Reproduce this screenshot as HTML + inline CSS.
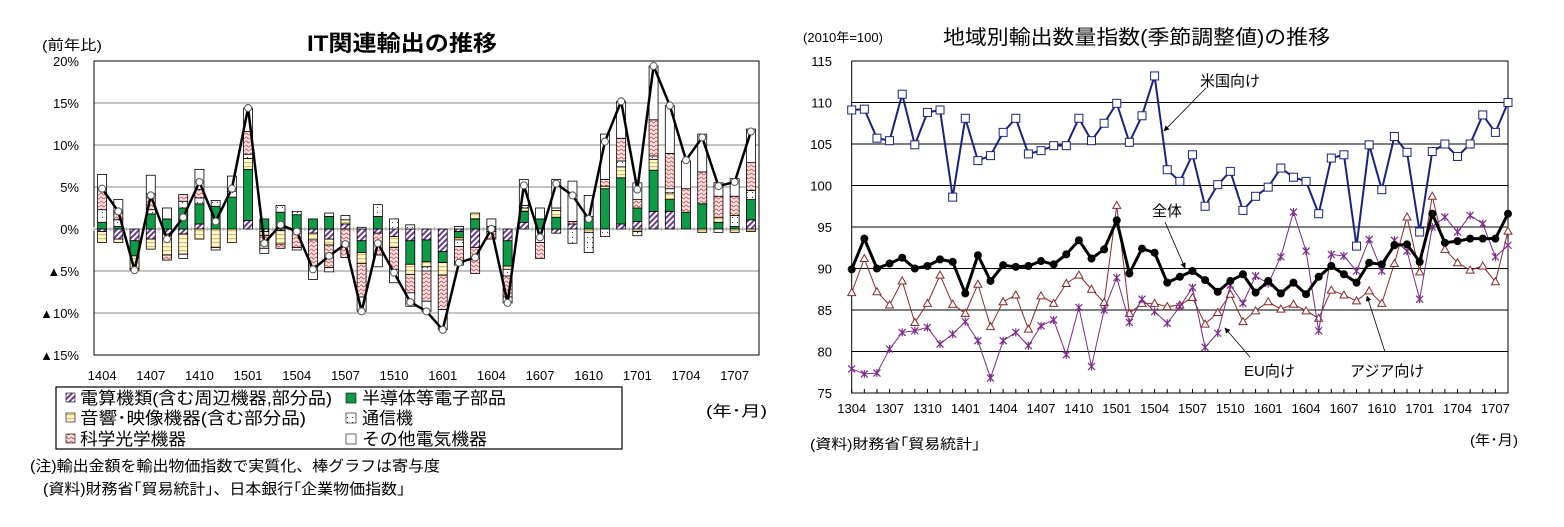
<!DOCTYPE html>
<html><head><meta charset="utf-8"><style>
body{margin:0;background:#fff;width:1564px;height:522px;overflow:hidden;font-family:"Liberation Sans","Noto Sans CJK JP",sans-serif;}
svg text{font-family:"Liberation Sans","Noto Sans CJK JP",sans-serif;}
</style></head><body>
<svg id="s" width="1564" height="522" xmlns="http://www.w3.org/2000/svg">
<defs>
<pattern id="pHatch" width="4" height="4" patternUnits="userSpaceOnUse" patternTransform="rotate(45)"><rect width="4" height="4" fill="#fff"/><rect width="2" height="4" fill="#6a3d9a"/></pattern>
<pattern id="pYel" width="4" height="4" patternUnits="userSpaceOnUse"><rect width="4" height="4" fill="#fff8d0"/><rect y="2" width="4" height="1.2" fill="#d8c060"/></pattern>
<pattern id="pDot" width="5" height="5" patternUnits="userSpaceOnUse"><rect width="5" height="5" fill="#fff"/><rect x="2" y="2" width="1" height="1" fill="#333"/></pattern>
<pattern id="pRed" width="5" height="4" patternUnits="userSpaceOnUse"><rect width="5" height="4" fill="#fbe5e5"/><path d="M0 2 Q1.25 0 2.5 2 T5 2" stroke="#d04040" stroke-width="0.8" fill="none"/></pattern>
<marker id="arr" viewBox="0 0 10 10" refX="9" refY="5" markerWidth="7" markerHeight="7" orient="auto"><path d="M0 0 L10 5 L0 10 z" fill="#000"/></marker>
</defs>
<text x="307" y="51" font-size="22" font-weight="bold" textLength="190" lengthAdjust="spacingAndGlyphs">IT関連輸出の推移</text>
<text x="42" y="50" font-size="14" textLength="60" lengthAdjust="spacingAndGlyphs">(前年比)</text>
<text x="943" y="44" font-size="20" textLength="387" lengthAdjust="spacingAndGlyphs">地域別輸出数量指数(季節調整値)の推移</text>
<text x="803" y="42" font-size="13" textLength="80" lengthAdjust="spacingAndGlyphs">(2010年=100)</text>
<g id="L"></g><g id="R"></g>
<g>
<rect x="56" y="387" width="566" height="62" fill="#fff" stroke="#000" stroke-width="1.2"/>
<rect x="66" y="393" width="9" height="9" fill="url(#pHatch)" stroke="#000" stroke-width="0.6"/><text x="80" y="404" font-size="17" textLength="252" lengthAdjust="spacingAndGlyphs">電算機類(含む周辺機器,部分品)</text>
<rect x="346" y="393" width="10" height="10" fill="#0f9a48" stroke="#000" stroke-width="0.6"/><text x="362" y="404" font-size="17" textLength="144" lengthAdjust="spacingAndGlyphs">半導体等電子部品</text>
<rect x="66" y="413" width="9" height="9" fill="url(#pYel)" stroke="#000" stroke-width="0.6"/><text x="80" y="424" font-size="17" textLength="226" lengthAdjust="spacingAndGlyphs">音響･映像機器(含む部分品)</text>
<rect x="346" y="413" width="10" height="10" fill="url(#pDot)" stroke="#000" stroke-width="0.6"/><text x="362" y="424" font-size="17" textLength="51" lengthAdjust="spacingAndGlyphs">通信機</text>
<rect x="66" y="434" width="9" height="9" fill="url(#pRed)" stroke="#000" stroke-width="0.6"/><text x="80" y="445" font-size="17" textLength="106" lengthAdjust="spacingAndGlyphs">科学光学機器</text>
<rect x="346" y="434" width="10" height="10" fill="#fff" stroke="#000" stroke-width="0.6"/><text x="362" y="445" font-size="17" textLength="125" lengthAdjust="spacingAndGlyphs">その他電気機器</text>
</g>
<text x="706" y="416" font-size="15" textLength="61" lengthAdjust="spacingAndGlyphs">(年･月)</text>
<text x="30" y="471" font-size="15" textLength="410" lengthAdjust="spacingAndGlyphs">(注)輸出金額を輸出物価指数で実質化、棒グラフは寄与度</text>
<text x="43" y="494" font-size="15" textLength="362" lengthAdjust="spacingAndGlyphs">(資料)財務省｢貿易統計｣、日本銀行｢企業物価指数｣</text>
<text x="810" y="449" font-size="14" textLength="170" lengthAdjust="spacingAndGlyphs">(資料)財務省｢貿易統計｣</text>
<text x="1470" y="445" font-size="14" textLength="48" lengthAdjust="spacingAndGlyphs">(年･月)</text>
</svg>
<script>
// ===== Left chart data =====
const lMonths=["1404","1405","1406","1407","1408","1409","1410","1411","1412","1501","1502","1503","1504","1505","1506","1507","1508","1509","1510","1511","1512","1601","1602","1603","1604","1605","1606","1607","1608","1609","1610","1611","1612","1701","1702","1703","1704","1705","1706","1707","1708"];
const lTicks=["1404","1407","1410","1501","1504","1507","1510","1601","1604","1607","1610","1701","1704","1707"];
const lYTicks=[20,15,10,5,0,-5,-10,-15];
const lTotal=[4.8,2.1,-4.9,4.0,-1.2,1.4,5.6,0.9,4.8,14.4,-1.7,0.5,-0.3,-4.8,-3.2,-1.8,-9.8,-1.7,-5.2,-8.7,-9.8,-12.0,-4.0,-3.4,0,-8.8,5.2,-1.0,5.4,4.0,1.2,10.4,15.2,4.7,19.4,14.7,8.2,10.9,5.1,5.6,11.6];
const sComp=[-0.3,-1.2,-1.4,-1.2,-0.6,-0.6,0.6,0,0,1.0,-0.3,-0.2,-0.3,-0.5,-1.2,0.6,-1.4,-0.5,-0.9,-1.4,-1.3,-2.7,-0.3,-2.2,-0.3,-1.4,0.8,0,-0.5,0.6,0,0,0.6,0.9,2.1,2.1,0,0,0,0,1.1];
const sSemi=[0.8,0.3,-1.8,1.8,1.2,2.5,2.4,2.7,3.8,6.1,1.2,2.0,1.7,1.2,1.5,0,-1.4,1.5,0,-2.8,-2.6,-1.3,-0.7,1.2,0.3,-3.0,1.3,1.2,1.4,0,1.2,4.8,5.5,1.6,4.9,1.4,2.0,3.0,0.8,0.3,2.4];
const sAV=[-1.3,-0.4,-1.5,-1.2,-2.5,-2.4,-1.2,-2.2,-1.6,1.3,-0.5,-1.6,0,-0.8,-0.7,0.5,-1.3,0,-1.3,-1.2,-0.6,-1.5,-0.3,0.7,0,-0.4,0.4,0,0.8,0,-0.4,0.3,1.3,-0.3,1.3,0.8,0,-0.4,0.6,-0.4,-0.3];
const sTel=[1.5,0.8,0,0.5,0,0.8,0.7,0.7,0.7,0.5,0,0.8,0.4,0,0.4,0,0.2,1.4,1.2,0.5,-0.5,0,-0.8,0,0,-0.8,0.3,-1.6,0.3,-1.7,-2.4,-0.9,0.7,-0.5,0.4,0.5,0,0,-0.4,1.3,1.1];
const sSci=[2.5,0.9,0,1.9,-0.6,0.8,1.0,0,0.3,2.7,-1.5,-0.5,-1.9,-3.1,-2.7,-3.4,-4.0,-2.6,-2.6,-2.2,-3.6,-4.1,-2.2,-3.1,-0.9,-2.5,0,-1.9,0,0.3,0.3,0.8,2.7,1.0,4.3,4.2,2.8,3.8,2.5,2.3,3.3];
const sOther=[1.7,1.5,-0.2,2.2,1.3,-0.5,2.4,-0.3,1.5,2.8,-0.6,0,-0.3,-1.6,-0.5,0.5,-1.7,-1.4,-1.6,-1.6,-1.2,-2.4,0.3,0,0.9,-0.7,3.1,1.3,3.4,4.8,2.5,5.4,4.4,2.0,6.4,5.7,3.3,4.5,1.6,2.1,4.0];
// ===== Right chart data =====
const rMonths=["1304","1305","1306","1307","1308","1309","1310","1311","1312","1401","1402","1403","1404","1405","1406","1407","1408","1409","1410","1411","1412","1501","1502","1503","1504","1505","1506","1507","1508","1509","1510","1511","1512","1601","1602","1603","1604","1605","1606","1607","1608","1609","1610","1611","1612","1701","1702","1703","1704","1705","1706","1707","1708"];
const rYTicks=[115,110,105,100,95,90,85,80,75];
const rUS=[109.1,109.2,105.7,105.4,111.0,104.9,108.8,109.1,98.6,108.1,103.0,103.6,106.4,108.1,103.8,104.2,104.8,104.8,108.1,105.4,107.5,109.9,105.2,108.4,113.2,101.9,100.5,103.7,97.5,100.1,101.7,97.0,98.7,99.8,102.1,101.0,100.5,96.6,103.3,103.7,92.7,104.9,99.5,105.9,104.0,94.4,104.1,105.0,103.5,105.0,108.5,106.4,110.0];
const rTotal=[89.9,93.6,90.0,90.6,91.3,90.0,90.3,91.1,90.8,87.0,91.6,88.5,90.4,90.2,90.3,90.9,90.5,91.7,93.4,91.2,92.3,95.8,89.4,92.4,91.9,88.3,89.0,89.7,88.6,87.2,88.5,89.3,87.1,88.5,87.0,88.3,86.9,89.0,90.3,89.3,88.3,90.7,90.5,92.8,92.9,90.8,96.6,93.1,93.3,93.6,93.6,93.6,96.6];
const rAsia=[87.1,91.2,87.2,85.6,88.5,83.5,85.8,89.2,85.7,84.6,88.1,83.0,86.0,86.8,82.7,86.7,85.8,88.2,89.2,87.5,85.9,97.6,84.6,85.8,85.8,85.4,85.6,86.5,83.3,84.7,86.9,83.6,84.9,86.0,85.1,85.7,84.9,84.0,87.4,86.8,86.1,87.3,85.8,90.6,96.2,89.6,98.7,92.3,90.7,89.8,90.3,88.4,94.5];
const rEU=[77.9,77.3,77.4,80.3,82.3,82.5,82.9,80.9,82.1,83.6,81.3,76.8,81.3,82.3,80.7,83.1,83.8,79.6,85.3,78.2,85.0,88.9,83.5,86.3,84.8,83.4,85.4,87.7,80.5,82.2,88.0,85.8,89.1,88.2,91.4,96.8,92.1,82.5,91.7,91.5,89.7,93.5,89.7,93.4,92.1,86.3,95.0,96.2,94.4,96.4,95.4,91.4,92.8];

const NS="http://www.w3.org/2000/svg";
function mk(p,tag,a){const e=document.createElementNS(NS,tag);for(const k in a)e.setAttribute(k,a[k]);p.appendChild(e);return e;}
// Left axes
const L=document.getElementById('L');
const lx0=94,lx1=759,ly0=61,ly1=355,lMin=-15,lMax=20;
const lbw=(lx1-lx0)/lMonths.length;
const lxC=i=>lx0+lbw*(i+0.5);
const ly=v=>ly1-(v-lMin)/(lMax-lMin)*(ly1-ly0);
lYTicks.forEach(t=>{
  if(t!==20&&t!==-15){const g=mk(L,'line',{x1:lx0,x2:lx1,y1:ly(t),y2:ly(t),stroke:'#888','stroke-width':1});
  
  }
  const tx=mk(L,'text',{x:79,y:ly(t)+5,'font-size':13,'text-anchor':'end'});
  tx.textContent=(t<0?'▲'+(-t):t)+'%';
  
  
});
const lframe=mk(L,'rect',{x:lx0,y:ly0,width:lx1-lx0,height:ly1-ly0,fill:'none',stroke:'#000','stroke-width':1});


lMonths.forEach((m,i)=>{const tk=mk(L,'line',{x1:lx0+lbw*i,x2:lx0+lbw*i,y1:ly(0)-2,y2:ly(0)+2,stroke:'#aaa'});
  
  
  if(lTicks.includes(m)){const t=mk(L,'text',{x:lxC(i),y:380,'font-size':13,'text-anchor':'middle'});t.textContent=m;
  
  }});
const series=[[sComp,'url(#pHatch)','bar-computers'],[sSemi,'#0f9a48','bar-semiconductors'],[sAV,'url(#pYel)','bar-audio-video'],[sTel,'url(#pDot)','bar-telecom'],[sSci,'url(#pRed)','bar-scientific-optical'],[sOther,'#fff','bar-other-electrical']];
lMonths.forEach((m,i)=>{let pos=0,neg=0;
  series.forEach(([arr,fill,name])=>{const v=arr[i];if(!v)return;let a,b;
    if(v>0){a=pos;b=pos+v;pos=b;}else{a=neg;b=neg+v;neg=b;}
    const r=mk(L,'rect',{x:lxC(i)-4.5,y:Math.min(ly(a),ly(b)),width:9,height:Math.abs(ly(a)-ly(b)),fill:fill,stroke:'#000','stroke-width':0.8});
    
    
  });});
const lpl=mk(L,'polyline',{points:lTotal.map((v,i)=>lxC(i)+','+ly(v)).join(' '),fill:'none',stroke:'#000','stroke-width':2.5});


lTotal.forEach((v,i)=>{const c=mk(L,'circle',{cx:lxC(i),cy:ly(v),r:3.5,fill:'#fff',stroke:'#555','stroke-width':1});
  
  });

// Right chart
const R=document.getElementById('R');
const rx0=851.7,rx1=1508,ry0=61,ry1=393,rMin=75,rMax=115;
const rxs=i=>rx0+(rx1-rx0)*i/(rMonths.length-1);
const ry=v=>ry1-(v-rMin)/(rMax-rMin)*(ry1-ry0);
rYTicks.forEach(t=>{const g=mk(R,'line',{x1:rx0,x2:rx1,y1:ry(t),y2:ry(t),stroke:'#000','stroke-width':1});
  
  
  const tx=mk(R,'text',{x:832,y:ry(t)+5,'font-size':13,'text-anchor':'end'});tx.textContent=t;
  
  });
const rframe=mk(R,'rect',{x:rx0,y:ry0,width:rx1-rx0,height:ry1-ry0,fill:'none',stroke:'#000','stroke-width':1});


rMonths.forEach((m,i)=>{const tk=mk(R,'line',{x1:rxs(i),x2:rxs(i),y1:ry1,y2:ry1-4,stroke:'#000'});
  
  
  if(i%3===0){const t=mk(R,'text',{x:rxs(i),y:413,'font-size':13,'text-anchor':'middle'});t.textContent=m;
  
  }});
function line(arr,color,w,name){const p=mk(R,'polyline',{points:arr.map((v,i)=>rxs(i)+','+ry(v)).join(' '),fill:'none',stroke:color,'stroke-width':w});
  
  }
line(rAsia,'#8b2a2a',1,'line-asia');
rAsia.forEach((v,i)=>{const x=rxs(i),y=ry(v);const p=mk(R,'polygon',{points:`${x},${y-4} ${x-4},${y+3} ${x+4},${y+3}`,fill:'#fff',stroke:'#8b2a2a','stroke-width':1});
  
  });
line(rEU,'#7a2a8a',1,'line-eu');
rEU.forEach((v,i)=>{const x=rxs(i),y=ry(v);const p=mk(R,'path',{d:`M${x-3.5} ${y-3.5}L${x+3.5} ${y+3.5}M${x-3.5} ${y+3.5}L${x+3.5} ${y-3.5}M${x} ${y-4}L${x} ${y+4}`,stroke:'#7a2a8a','stroke-width':1.2});
  
  });
line(rUS,'#1a237e',2,'line-us');
rUS.forEach((v,i)=>{const p=mk(R,'rect',{x:rxs(i)-4,y:ry(v)-4,width:8,height:8,fill:'#fff',stroke:'#1a237e','stroke-width':1});
  
  });
line(rTotal,'#000',3,'line-total');
rTotal.forEach((v,i)=>{const p=mk(R,'circle',{cx:rxs(i),cy:ry(v),r:4,fill:'#000'});
  
  });
// annotations
[[1206,88,1164,131,'米国向け',1200,86,'label-us'],[1165,222,1185,268,'全体',1152,216,'label-total'],[1250,357,1225,328,'EU向け',1244,376,'label-eu'],[1385,352,1367,296,'アジア向け',1350,376,'label-asia']].forEach(a=>{
  const l=mk(R,'line',{x1:a[0],y1:a[1],x2:a[2],y2:a[3],stroke:'#000','stroke-width':0.8,'marker-end':'url(#arr)'});
  
  
  const t=mk(R,'text',{x:a[5],y:a[6],'font-size':15});t.textContent=a[4];
  
  
});
</script>
</body></html>
